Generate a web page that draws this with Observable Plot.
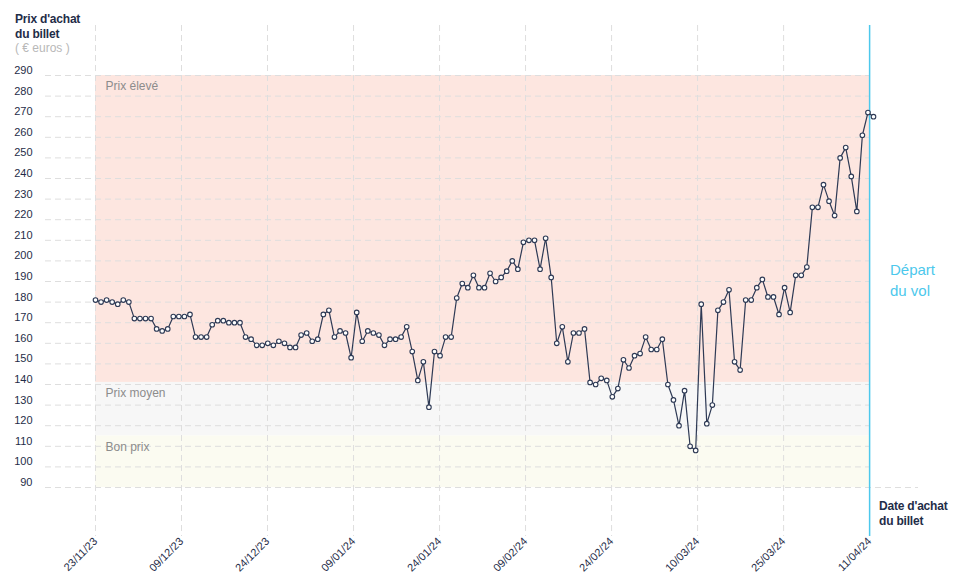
<!DOCTYPE html>
<html><head><meta charset="utf-8">
<script src="https://cdn.jsdelivr.net/npm/d3@7"></script>
<script src="https://cdn.jsdelivr.net/npm/@observablehq/plot@0.6"></script>
<style>
body{margin:0;background:#fff;font-family:"Liberation Sans",Arial,sans-serif;}
#wrap{position:relative;width:958px;height:585px;overflow:hidden;}
#wrap svg{position:absolute;left:0;top:0;}
.lbl{position:absolute;white-space:nowrap;}
#ytitle{left:15px;top:12px;font-size:12px;font-weight:bold;color:#1f2d48;line-height:15px;letter-spacing:-0.2px;}
#yunit{left:15px;top:42px;font-size:12px;color:#b8b8b8;line-height:12px;}
#depart{left:890px;top:259px;font-size:15px;color:#4cc8ec;line-height:21px;}
#xtitle{left:879px;top:499px;font-size:12px;font-weight:bold;color:#1f2d48;line-height:15px;letter-spacing:-0.2px;}
</style></head><body>
<div id="wrap">
<div class="lbl" id="ytitle">Prix d'achat<br>du billet</div>
<div class="lbl" id="yunit">( € euros )</div>
<div class="lbl" id="depart">Départ<br>du vol</div>
<div class="lbl" id="xtitle">Date d'achat<br>du billet</div>
</div>
<script>
// Daily ticket prices from 23/11/23 to 11/04/24 (one value per day)
const prices = [
  181,180,181,180,179,181,180,
  172,172,172,172,
  167,166,167,
  173,173,173,174,
  163,163,163,
  169,171,171,170,170,170,
  163,162,159,159,160,159,161,160,158,158,
  164,165,161,162,174,176,163,166,165,153,175,161,
  166,165,164,159,162,162,163,168,156,142,151,129,156,154,163,163,
  182,189,187,193,187,187,194,190,192,195,200,196,209,210,210,196,211,192,
  160,168,151,165,165,167,141,140,143,
  142,134,138,152,148,154,155,163,157,157,162,140,132.5,120,137,110,108,
  179,121,130,176,180,186,151,147,181,181,187,191,182.5,182.5,174,187,175,193,193,197,
  226,226,237,229,222,250,255,241,224,261,272,270
];
const tickLabels = ["23/11/23","09/12/23","24/12/23","09/01/24","24/01/24","09/02/24","24/02/24","10/03/24","25/03/24","11/04/24"];
const yTicks = [90,100,110,120,130,140,150,160,170,180,190,200,210,220,230,240,250,260,270,280,290];
const bandNames = ["Prix élevé","Prix moyen","Bon prix"];
const bandLow = [141, 115, 90];
const bandHigh = [290, 141, 115];
const bandColors = ["#fde6e0","#f7f7f7","#fbfbf1"];
const departIndex = 139.3;

const data = prices.map((p, i) => ({i, p}));
const step = departIndex / (tickLabels.length - 1);
const tickPos = tickLabels.map((_, k) => k * step);
const bands = bandNames.map((name, k) => ({name, lo: bandLow[k], hi: bandHigh[k], color: bandColors[k]}));
const navy = "#2e3a55";
const grid = "#dedede";

const chart = Plot.plot({
  width: 958, height: 585,
  marginLeft: 95, marginRight: 85, marginTop: 75, marginBottom: 98,
  x: {domain: [0, prices.length - 1], axis: null},
  y: {domain: [90, 290], axis: null},
  color: {type: "identity"},
  style: {fontFamily: "'Liberation Sans', Arial, sans-serif", background: "transparent", overflow: "visible"},
  marks: [
    Plot.rect(bands, {x1: 0, x2: departIndex, y1: "lo", y2: "hi", fill: "color"}),
    Plot.ruleY(yTicks.filter(v => v > 90), {stroke: grid, strokeDasharray: "6,4", insetLeft: -50, insetRight: 4}),
    Plot.ruleY([90], {stroke: grid, strokeDasharray: "6,4", insetLeft: -50, insetRight: -45}),
    Plot.ruleX(tickPos.slice(0, -1), {stroke: grid, strokeDasharray: "6,4", insetTop: -50, insetBottom: -49}),
    Plot.ruleX([departIndex], {stroke: "#4cc8ec", strokeWidth: 1.5, insetTop: -50, insetBottom: -49}),
    Plot.text(bands, {x: 0, y: "hi", text: "name", dx: 10, dy: 11, textAnchor: "start", fill: "#8c8c8c", fontSize: 12}),
    Plot.axisY(yTicks, {tickSize: 0, tickPadding: 63, dy: -5, fontSize: 11, color: "#1f2d48", label: null}),
    Plot.axisX(tickPos, {tickSize: 0, tickPadding: 52, tickRotate: -45, fontSize: 11, color: "#1f2d48", label: null,
      tickFormat: d => tickLabels[Math.round(d / step)]}),
    Plot.line(data, {x: "i", y: "p", stroke: navy, strokeWidth: 1.2}),
    Plot.dot(data, {x: "i", y: "p", r: 2.3, fill: "white", stroke: navy, strokeWidth: 1.1})
  ]
});
document.getElementById("wrap").prepend(chart);
</script>
</body></html>
